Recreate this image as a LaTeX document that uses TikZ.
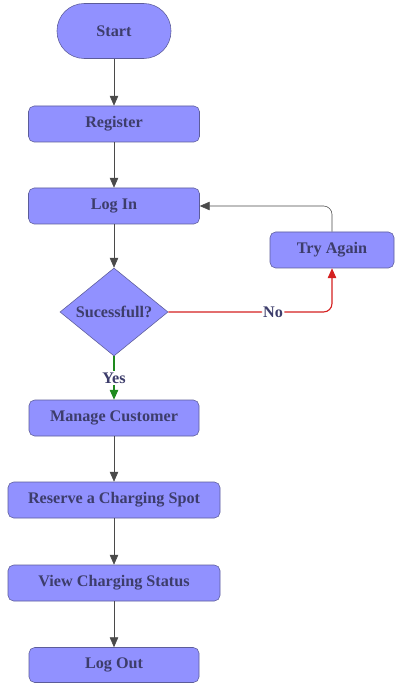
\documentclass[tikz,border=0pt]{standalone}
\usepackage{fontspec}
\setmainfont{Liberation Serif}
\usetikzlibrary{shapes.geometric,arrows.meta}
\definecolor{relleno}{HTML}{9191FF}
\definecolor{borde}{HTML}{5C5C99}
\definecolor{texto}{HTML}{3D3D6B}
\definecolor{flecha}{HTML}{4A4A4A}
\definecolor{rojo}{HTML}{D42020}
\definecolor{verde}{HTML}{1E8A1E}
\begin{document}
\begin{tikzpicture}[
            paso/.style={draw=borde, fill=relleno, rounded corners=4pt, minimum height=0.9cm, text=texto, font=\fontsize{11.5}{13}\selectfont\bfseries},
            inicio/.style={paso, rounded corners=0.68cm, minimum width=2.85cm, minimum height=1.375cm},
            decision/.style={draw=borde, fill=relleno, diamond, inner sep=0pt, minimum width=2.7cm, minimum height=1.975cm, text=texto, font=\fontsize{11.5}{13}\selectfont\bfseries},
            linea/.style={draw=flecha, -{Triangle[length=7pt, width=6pt]}},
            etiqueta/.style={fill=white, text=texto, inner sep=1pt, font=\fontsize{11.5}{13}\selectfont\bfseries}
        ]
        \useasboundingbox (0, 0) rectangle (9.875, -17.1);

        % --- FLUJO PRINCIPAL ---
        \node[inicio] (start) at (2.85, -0.775) {Start};
        \node[paso, minimum width=4.275cm] (register) at (2.85, -3.1) {Register};
        \node[paso, minimum width=4.275cm] (login) at (2.85, -5.15) {Log In};
        \node[decision] (exito) at (2.85, -7.8) {Sucessfull?};
        \node[paso, minimum width=4.25cm] (manage) at (2.85, -10.45) {Manage Customer};
        \node[paso, minimum width=5.3cm] (reserve) at (2.85, -12.5) {Reserve a Charging Spot};
        \node[paso, minimum width=5.3cm] (status) at (2.85, -14.575) {View Charging Status};
        \node[paso, minimum width=4.25cm, minimum height=0.875cm] (logout) at (2.85, -16.625) {Log Out};

        % --- REINTENTO ---
        \node[paso, minimum width=3.1cm] (retry) at (8.3, -6.25) {Try Again};

        \draw[linea] (start) -- (register);
        \draw[linea] (register) -- (login);
        \draw[linea] (login) -- (exito);
        \draw[linea] (manage) -- (reserve);
        \draw[linea] (reserve) -- (status);
        \draw[linea] (status) -- (logout);

        \draw[linea, draw=verde, thick] (exito) -- node[etiqueta] (yes) {Yes} (manage);
        \draw[linea, draw=rojo, thick, rounded corners=6pt] (exito.east) -- node[etiqueta, pos=0.64] (no) {No} (exito.east -| retry.south) -- (retry.south);
        \draw[linea, rounded corners=6pt] (retry.north) |- (login.east);
    \end{tikzpicture}
\end{document}
